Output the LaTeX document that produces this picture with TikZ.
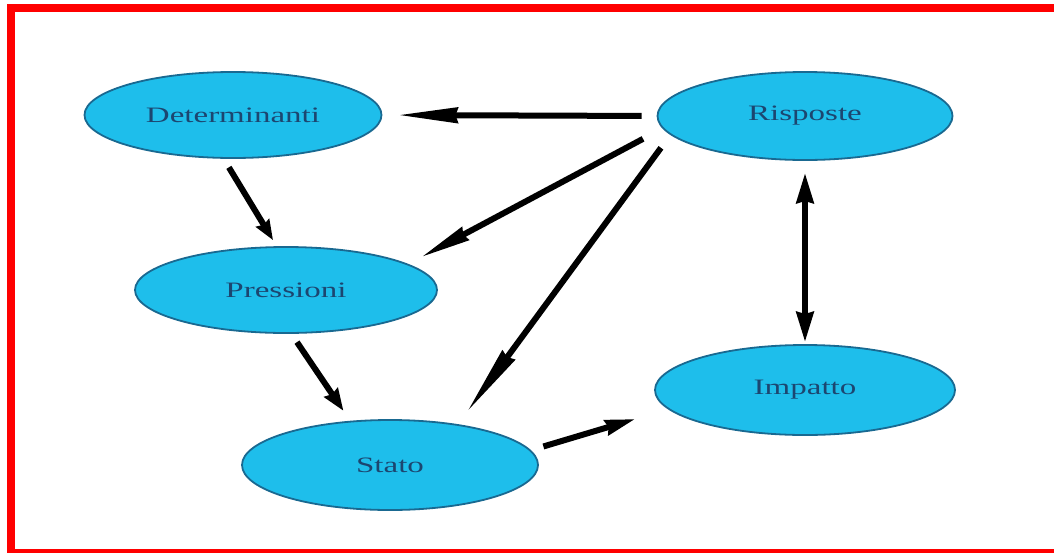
\documentclass[tikz,border=0pt]{standalone}
\usepackage{fontspec}
\setmainfont{Liberation Serif}
\usetikzlibrary{shapes.geometric,arrows.meta}
\definecolor{ellfill}{RGB}{30,190,235}
\definecolor{elldraw}{RGB}{25,105,145}
\definecolor{elltext}{RGB}{28,70,112}
\definecolor{frame}{RGB}{255,0,0}
\newcommand{\lbl}[1]{\scalebox{1.5}[1]{\fontsize{22}{26}\selectfont #1}}
\tikzset{
  oval/.style={ellipse, fill=ellfill, draw=elldraw, line width=1.8pt, inner sep=0pt,
    text=elltext},
  arr/.style={line width=6pt, draw=black},
}
\begin{document}
\begin{tikzpicture}[x=1pt,y=-1pt]
\clip (0,0) rectangle (1054,552);
\fill[white] (0,0) rectangle (1054,552);
% red frame
\fill[frame] (7,4) rectangle (1070,12);
\fill[frame] (7,4) rectangle (15,570);
\fill[frame] (7,549) rectangle (1070,570);
% nodes
\node[oval, minimum width=297pt, minimum height=86pt] (D) at (233,115) {\lbl{Determinanti}};
\node[oval, minimum width=295pt, minimum height=88pt] (R) at (805,116) {\lbl{Risposte}};
\node[oval, minimum width=302pt, minimum height=86pt] (P) at (286,290) {\lbl{Pressioni}};
\node[oval, minimum width=300pt, minimum height=90pt] (I) at (805,390) {\lbl{Impatto}};
\node[oval, minimum width=296pt, minimum height=90pt] (S) at (390,465) {\lbl{Stato}};
% connectors
\draw[arr, -{Stealth[length=60pt,width=15pt,inset=2pt]}, shorten <=15pt, shorten >=15pt] (R.180) -- (D.0);
\draw[arr, -{Stealth[length=20pt,width=15pt,inset=2pt]}, shorten <=10pt, shorten >=7pt] (D.258) -- (P.102);
\draw[arr, -{Stealth[length=50pt,width=14pt,inset=2pt]}, shorten <=22pt, shorten >=14pt] (R.185.6) -- (P.12.8);
\draw[arr, -{Stealth[length=70pt,width=15pt,inset=2pt]}, shorten <=16pt, shorten >=15pt] (R.188.5) -- (S.31);
\draw[arr, -{Stealth[length=22pt,width=16pt,inset=2pt]}, shorten <=10pt, shorten >=12pt] (P.277.5) -- (S.132);
\draw[arr, -{Stealth[length=30pt,width=15pt,inset=2pt]}, shorten <=13pt, shorten >=34pt] (S.6.4) -- (I.188.5);
\draw[arr, {Stealth[length=30pt,width=17pt,inset=2pt]}-{Stealth[length=30pt,width=17pt,inset=2pt]}, shorten <=12pt, shorten >=2pt] (R.south) -- (I.north);
\end{tikzpicture}
\end{document}
